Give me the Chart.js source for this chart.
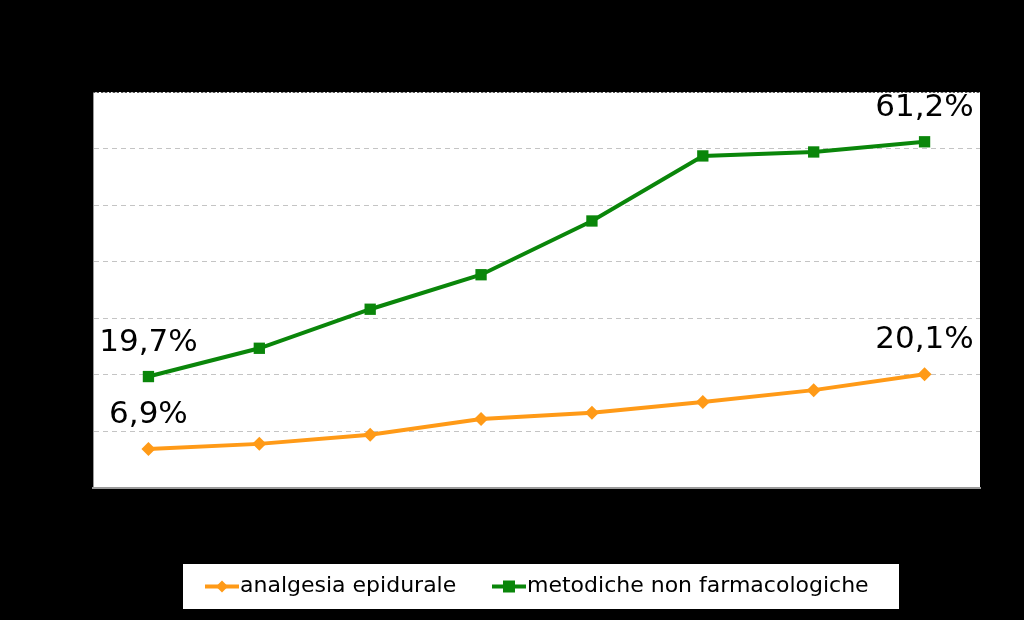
<!DOCTYPE html>
<html>
<head>
<meta charset="utf-8">
<style>
html,body{margin:0;padding:0;background:#000;}
#wrap{width:1024px;height:620px;position:relative;}
</style>
<script src="https://cdn.jsdelivr.net/npm/chart.js@4/dist/chart.umd.min.js"></script>
</head>
<body>
<div id="wrap"><canvas id="c" width="1024" height="620"></canvas></div>
<script>
const categories = ['1','2','3','4','5','6','7','8'];
const epiduraleValues = [6.9, 7.8, 9.4, 12.2, 13.3, 15.2, 17.3, 20.1];
const nonFarmValues = [19.7, 24.7, 31.6, 37.7, 47.2, 58.7, 59.4, 61.2];
const seriesNames = ['analgesia epidurale', 'metodiche non farmacologiche'];
const yTicks = [0, 10, 20, 30, 40, 50, 60, 70];

const ORANGE = '#FF9A17';
const GREEN = '#0A860A';
const FONT = '"DejaVu Sans", sans-serif';

function fmt(v){ return v.toFixed(1).replace('.', ',') + '%'; }

const bgPlugin = {
  id: 'bg',
  beforeDraw(chart){
    const {ctx, chartArea:a} = chart;
    ctx.save();
    ctx.fillStyle = '#000';
    ctx.fillRect(0,0,chart.width,chart.height);
    ctx.fillStyle = '#fff';
    ctx.fillRect(a.left, a.top, a.right-a.left, a.bottom-a.top);
    ctx.restore();
  },
  afterDatasetsDraw(chart){
    const {ctx, chartArea:a} = chart;
    ctx.save();
    ctx.strokeStyle = '#555';
    ctx.lineWidth = 1;
    ctx.setLineDash([2,2]);
    ctx.beginPath(); ctx.moveTo(a.left, a.top+0.5); ctx.lineTo(a.right, a.top+0.5); ctx.stroke();
    ctx.setLineDash([]);
    ctx.restore();
  }
};

const labelPlugin = {
  id: 'labels',
  afterDatasetsDraw(chart){
    const {ctx} = chart;
    ctx.save();
    ctx.font = '31px ' + FONT;
    ctx.fillStyle = '#000';
    ctx.textAlign = 'center';
    ctx.textBaseline = 'middle';
    chart.data.datasets.forEach((ds, i) => {
      const meta = chart.getDatasetMeta(i);
      const idxs = [0, ds.data.length-1];
      idxs.forEach(j => {
        const p = meta.data[j];
        ctx.fillText(fmt(ds.data[j]), p.x, p.y - 34);
      });
    });
    ctx.restore();
  }
};

const legendPlugin = {
  id: 'customLegend',
  afterDraw(chart){
    const {ctx} = chart;
    ctx.save();
    const bx = 182, by = 563, bw = 718, bh = 47;
    ctx.fillStyle = '#fff';
    ctx.fillRect(bx, by, bw, bh);
    ctx.strokeStyle = '#000';
    ctx.lineWidth = 1;
    ctx.strokeRect(bx+0.5, by+0.5, bw-1, bh-1);
    const cy = by + bh/2;
    ctx.font = '22px ' + FONT;
    ctx.textBaseline = 'middle';
    ctx.textAlign = 'left';
    const items = [
      {x:205, color:ORANGE, style:'diamond', text:seriesNames[0]},
      {x:492, color:GREEN, style:'square', text:seriesNames[1]}
    ];
    items.forEach(it => {
      ctx.strokeStyle = it.color;
      ctx.lineWidth = 4;
      ctx.beginPath(); ctx.moveTo(it.x, cy); ctx.lineTo(it.x+34, cy); ctx.stroke();
      ctx.fillStyle = it.color;
      const mx = it.x + 17;
      if (it.style === 'diamond'){
        ctx.beginPath(); ctx.moveTo(mx, cy-6); ctx.lineTo(mx+6, cy); ctx.lineTo(mx, cy+6); ctx.lineTo(mx-6, cy); ctx.closePath(); ctx.fill();
      } else {
        ctx.fillRect(mx-6, cy-6, 12, 12);
      }
      ctx.fillStyle = '#000';
      ctx.fillText(it.text, it.x+35, cy);
    });
    ctx.restore();
  }
};

new Chart(document.getElementById('c'), {
  type: 'line',
  data: {
    labels: categories,
    datasets: [
      {
        label: seriesNames[0],
        data: epiduraleValues,
        borderColor: ORANGE,
        backgroundColor: ORANGE,
        borderWidth: 4,
        pointStyle: 'rectRot',
        pointRadius: 7,
        pointBorderWidth: 0,
        tension: 0
      },
      {
        label: seriesNames[1],
        data: nonFarmValues,
        borderColor: GREEN,
        backgroundColor: GREEN,
        borderWidth: 4,
        pointStyle: 'rect',
        pointRadius: 8,
        pointBorderWidth: 0,
        tension: 0
      }
    ]
  },
  options: {
    responsive: false,
    animation: false,
    devicePixelRatio: 1,
    layout: { padding: { left: 93, right: 44, top: 92, bottom: 132 } },
    plugins: {
      legend: { display: false },
      tooltip: { enabled: false },
      title: { display: false }
    },
    scales: {
      x: {
        type: 'category',
        offset: true,
        ticks: { display: false },
        grid: { display: false, drawTicks: false },
        border: { display: true, color: '#9a9a9a', width: 2 }
      },
      y: {
        min: 0,
        max: 70,
        afterBuildTicks(axis){ axis.ticks = yTicks.map(v => ({value: v})); },
        ticks: { display: false },
        grid: {
          color: '#c4c4c4',
          lineWidth: 1,
          drawTicks: false
        },
        border: { display: true, color: '#9a9a9a', width: 1, dash: [5,4] }
      }
    }
  },
  plugins: [bgPlugin, labelPlugin, legendPlugin]
});
</script>
</body>
</html>
